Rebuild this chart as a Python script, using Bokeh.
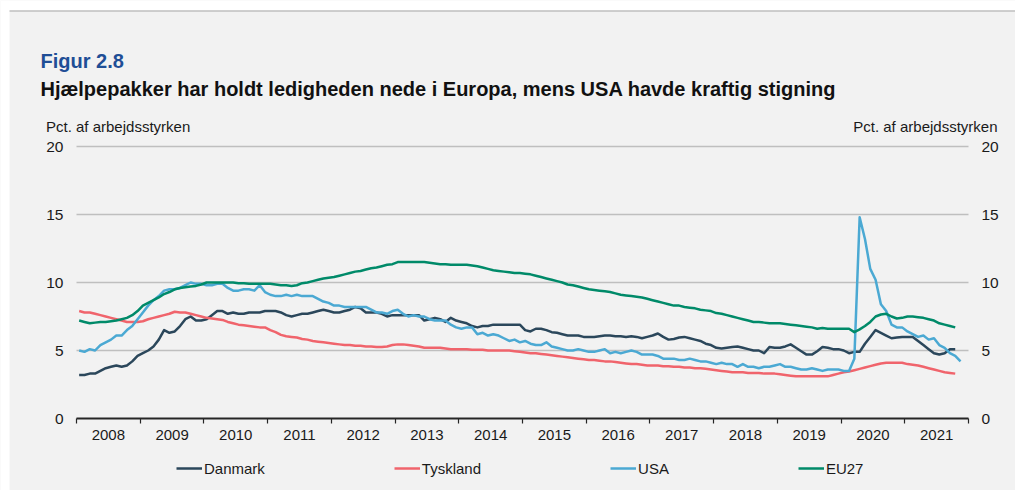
from bokeh.plotting import figure
from bokeh.models import (Range1d, LinearAxis, FixedTicker, CustomJSTickFormatter,
                          Legend, LegendItem, Label, BoxAnnotation)
from bokeh.embed import file_html
from bokeh.resources import INLINE

# ---------------- data (monthly, Jan 2008 onwards, pct. of labour force) -------------
start_year = 2008
year_ticks = list(range(2008, 2023))
y_ticks = [0, 5, 10, 15, 20]
grid_levels = [5, 10, 15, 20]

danmark = [
    3.2, 3.2, 3.3, 3.3, 3.5, 3.7, 3.8, 3.9, 3.8, 3.9, 4.2, 4.6,
    4.8, 5.0, 5.3, 5.8, 6.5, 6.3, 6.4, 6.8, 7.3, 7.5, 7.2, 7.2,
    7.3, 7.6, 7.9, 7.9, 7.7, 7.8, 7.7, 7.7, 7.8, 7.8, 7.8, 7.9,
    7.9, 7.9, 7.8, 7.6, 7.5, 7.6, 7.7, 7.7, 7.8, 7.9, 8.0, 7.9,
    7.8, 7.8, 7.9, 8.0, 8.2, 8.1, 7.8, 7.8, 7.8, 7.7, 7.5, 7.6,
    7.6, 7.6, 7.6, 7.6, 7.6, 7.2, 7.3, 7.4, 7.3, 7.1, 7.4, 7.2,
    7.1, 7.0, 6.8, 6.7, 6.8, 6.8, 6.9, 6.9, 6.9, 6.9, 6.9, 6.9,
    6.5, 6.4, 6.6, 6.6, 6.5, 6.35, 6.3, 6.2, 6.1, 6.1, 6.1, 6.0,
    6.0, 6.0, 6.05, 6.1, 6.1, 6.05, 6.05, 6.0, 6.05, 6.0, 5.9, 6.0,
    6.1, 6.25, 6.0, 5.8, 5.85, 5.95, 6.0, 5.9, 5.8, 5.7, 5.5, 5.4,
    5.2, 5.15, 5.2, 5.25, 5.3, 5.2, 5.1, 5.0, 5.0, 4.8, 5.25, 5.2,
    5.2, 5.3, 5.45, 5.2, 4.95, 4.7, 4.7, 4.95, 5.25, 5.2, 5.1, 5.1,
    5.0, 4.8, 4.9, 4.9, 5.5, 6.0, 6.5, 6.3, 6.1, 5.9, 5.95, 6.0,
    6.0, 6.0, 5.7, 5.4, 5.1, 4.8, 4.7, 4.8, 5.1, 5.1,
]

tyskland = [
    7.9, 7.8, 7.8, 7.7, 7.6, 7.5, 7.4, 7.3, 7.2, 7.1, 7.1, 7.1,
    7.15, 7.3, 7.4, 7.5, 7.6, 7.7, 7.85, 7.8, 7.8, 7.7, 7.6, 7.5,
    7.4, 7.35, 7.3, 7.25, 7.1, 7.0, 6.9, 6.85, 6.8, 6.75, 6.7, 6.7,
    6.5, 6.35, 6.15, 6.05, 6.0, 5.95, 5.85, 5.8, 5.7, 5.65, 5.6, 5.55,
    5.5, 5.45, 5.4, 5.4, 5.35, 5.35, 5.3, 5.3, 5.25, 5.25, 5.3, 5.4,
    5.45, 5.45, 5.4, 5.35, 5.3, 5.2, 5.2, 5.2, 5.2, 5.15, 5.1, 5.1,
    5.1, 5.1, 5.05, 5.05, 5.05, 5.0, 5.0, 5.0, 5.0, 5.0, 4.95, 4.9,
    4.85, 4.8, 4.8, 4.75, 4.7, 4.65, 4.6, 4.55, 4.5, 4.45, 4.4, 4.35,
    4.3, 4.3, 4.25, 4.2, 4.2, 4.15, 4.1, 4.05, 4.0, 4.0, 3.95, 3.9,
    3.9, 3.9, 3.85, 3.85, 3.8, 3.8, 3.75, 3.75, 3.7, 3.7, 3.65, 3.6,
    3.55, 3.5, 3.45, 3.4, 3.4, 3.4, 3.35, 3.35, 3.35, 3.3, 3.3, 3.3,
    3.25, 3.2, 3.15, 3.1, 3.1, 3.1, 3.1, 3.1, 3.1, 3.1, 3.2, 3.3,
    3.4, 3.45, 3.55, 3.65, 3.75, 3.85, 3.95, 4.05, 4.1, 4.1, 4.1, 4.1,
    4.0, 3.95, 3.9, 3.8, 3.7, 3.6, 3.5, 3.4, 3.35, 3.3,
]

usa = [
    5.0, 4.9, 5.1, 5.0, 5.4, 5.6, 5.8, 6.1, 6.1, 6.5, 6.8, 7.3,
    7.8, 8.3, 8.7, 9.0, 9.4, 9.5, 9.5, 9.6, 9.8, 10.0, 9.9, 9.9,
    9.8, 9.8, 9.9, 9.9, 9.6, 9.4, 9.4, 9.5, 9.5, 9.4, 9.8, 9.3,
    9.1, 9.0, 9.0, 9.1, 9.0, 9.1, 9.0, 9.0, 9.0, 8.8, 8.6, 8.5,
    8.3, 8.3, 8.2, 8.2, 8.2, 8.2, 8.2, 8.0, 7.8, 7.8, 7.7, 7.9,
    8.0, 7.7, 7.5, 7.6, 7.5, 7.5, 7.3, 7.2, 7.2, 7.2, 6.9, 6.7,
    6.6, 6.7, 6.7, 6.2, 6.3, 6.1, 6.2, 6.1, 5.9, 5.7, 5.8, 5.6,
    5.7, 5.5, 5.4, 5.4, 5.6, 5.3, 5.2, 5.1, 5.0, 5.0, 5.1, 5.0,
    4.9, 4.9, 5.0, 5.1, 4.8, 4.9, 4.8, 4.9, 5.0, 4.9, 4.7, 4.7,
    4.7, 4.6, 4.4, 4.4, 4.4, 4.3, 4.3, 4.4, 4.3, 4.2, 4.2, 4.1,
    4.0, 4.1, 4.0, 4.0, 3.8, 4.0, 3.8, 3.8, 3.7, 3.8, 3.8, 3.9,
    4.0, 3.8, 3.8, 3.7, 3.6, 3.6, 3.7, 3.6, 3.5, 3.6, 3.6, 3.6,
    3.5, 3.5, 4.4, 14.8, 13.2, 11.0, 10.2, 8.4, 7.9, 6.9, 6.7, 6.7,
    6.4, 6.2, 6.0, 6.1, 5.8, 5.9, 5.4, 5.2, 4.8, 4.6, 4.2,
]

eu27 = [
    7.2, 7.1, 7.0, 7.05, 7.1, 7.1, 7.15, 7.2, 7.3, 7.4, 7.6, 7.9,
    8.3, 8.5, 8.7, 8.9, 9.15, 9.3, 9.5, 9.6, 9.65, 9.7, 9.75, 9.85,
    10.0, 10.0, 10.0, 10.0, 10.0, 10.0, 9.95, 9.95, 9.9, 9.9, 9.9, 9.9,
    9.9, 9.85, 9.8, 9.8, 9.75, 9.8, 9.95, 10.0, 10.1, 10.2, 10.3, 10.35,
    10.4, 10.5, 10.6, 10.7, 10.8, 10.85, 10.95, 11.05, 11.1, 11.2, 11.3, 11.35,
    11.5, 11.5, 11.5, 11.5, 11.5, 11.5, 11.45, 11.4, 11.35, 11.35, 11.3, 11.3,
    11.3, 11.3, 11.25, 11.2, 11.1, 11.0, 10.9, 10.85, 10.8, 10.75, 10.7, 10.7,
    10.65, 10.6, 10.5, 10.4, 10.3, 10.2, 10.1, 10.0, 9.85, 9.8, 9.7, 9.6,
    9.5, 9.45, 9.4, 9.35, 9.3, 9.2, 9.1, 9.05, 9.0, 8.95, 8.9, 8.8,
    8.7, 8.6, 8.5, 8.4, 8.3, 8.3, 8.2, 8.15, 8.1, 8.0, 7.95, 7.9,
    7.75, 7.7, 7.6, 7.5, 7.4, 7.3, 7.2, 7.1, 7.1, 7.05, 7.0, 7.0,
    7.0, 6.95, 6.9, 6.85, 6.8, 6.75, 6.7, 6.6, 6.65, 6.6, 6.6, 6.6,
    6.6, 6.6, 6.35, 6.55, 6.8, 7.1, 7.5, 7.65, 7.7, 7.5, 7.35, 7.4,
    7.5, 7.5, 7.45, 7.4, 7.3, 7.2, 7.0, 6.9, 6.8, 6.7,
]

series_names = ["Danmark", "Tyskland", "USA", "EU27"]
series_values = [danmark, tyskland, usa, eu27]
series_colors = ["#2b475b", "#f0646c", "#4ba9d3", "#008a69"]

title_text = "Figur 2.8"
subtitle_text = "Hjælpepakker har holdt ledigheden nede i Europa, mens USA havde kraftig stigning"
unit_text = "Pct. af arbejdsstyrken"


def month_pos(n):
    # mid-month position, in decimal years
    return [start_year + (i + 0.5) / 12 for i in range(n)]


# ---------------- layout (pixels) ----------------
W, H = 1015, 490
FL, FR, FT, FB = 76, 968, 146, 418          # plotting area
X0, X1 = year_ticks[0], year_ticks[-1]
Y0, Y1 = y_ticks[0], y_ticks[-1]
PPX = (FR - FL) / (X1 - X0)
PPY = (FB - FT) / (Y1 - Y0)


def px_x(px):
    return X0 + (px - FL) / PPX


def px_y(py):
    return Y0 + (FB - py) / PPY


FONT = "Liberation Sans"
BG = "#f2f2f2"
TXT = "#1a1a1a"

p = figure(width=W, height=H, output_backend="svg", toolbar_location=None,
           title=None, x_axis_type=None, y_axis_type=None,
           x_range=Range1d(px_x(0), px_x(W)), y_range=Range1d(px_y(H), px_y(0)),
           background_fill_color=BG, border_fill_color=BG,
           min_border_left=0, min_border_right=0, min_border_top=0,
           min_border_bottom=0, outline_line_color=None)

# page strip above / left of the panel and the panel's top rule
p.add_layout(BoxAnnotation(bottom=px_y(10), fill_color="white", fill_alpha=1,
                           line_color=None))
p.add_layout(BoxAnnotation(right=px_x(9), fill_color="white", fill_alpha=1,
                           line_color=None))
p.add_layout(BoxAnnotation(left=px_x(9), bottom=px_y(11), top=px_y(10),
                           fill_color="#a6a6a6", fill_alpha=1, line_color=None))

# horizontal gridlines across the plotting area
p.segment(x0=[X0] * len(grid_levels), x1=[X1] * len(grid_levels),
          y0=grid_levels, y1=grid_levels, line_color="#bfbfbf", line_width=1.4)

renderers = []
for name, vals, col in zip(series_names, series_values, series_colors):
    r = p.line(month_pos(len(vals)), vals, line_color=col, line_width=2.5,
               line_join="round")
    renderers.append(r)

# x axis, on the zero line
xa = LinearAxis(fixed_location=Y0, bounds=(X0, X1))
xa.ticker = FixedTicker(ticks=[y + 0.5 for y in year_ticks[:-1]], minor_ticks=year_ticks)
xa.formatter = CustomJSTickFormatter(code="return Math.floor(tick).toString();")
xa.major_tick_out = 0
xa.major_tick_in = 0
xa.minor_tick_out = 5
xa.minor_tick_in = 0
xa.minor_tick_line_color = "#262626"
xa.minor_tick_line_width = 1.2
xa.axis_line_color = "#262626"
xa.axis_line_width = 2
xa.major_label_standoff = 6
xa.major_label_text_font = FONT
xa.major_label_text_font_size = "15px"
xa.major_label_text_color = TXT
p.add_layout(xa, "below")

# y axes, left and right
la = LinearAxis(fixed_location=X0, bounds=(Y0, Y1))
ra = LinearAxis(fixed_location=X1, bounds=(Y0, Y1))
for ax in (la, ra):
    ax.ticker = FixedTicker(ticks=y_ticks)
    ax.axis_line_color = None
    ax.major_tick_line_color = None
    ax.minor_tick_line_color = None
    ax.major_tick_out = 0
    ax.major_tick_in = 0
    ax.major_label_standoff = 13
    ax.major_label_text_font = FONT
    ax.major_label_text_font_size = "15.5px"
    ax.major_label_text_color = TXT
p.add_layout(la, "left")
p.add_layout(ra, "right")

# texts
p.add_layout(Label(x=px_x(40), y=px_y(60.5), text=title_text, text_font=FONT,
                   text_font_style="bold", text_font_size="20px",
                   text_color="#1f4e96", text_baseline="alphabetic"))
p.add_layout(Label(x=px_x(40), y=px_y(88.5), text=subtitle_text, text_font=FONT,
                   text_font_style="bold", text_font_size="20px",
                   text_color="#111111", text_baseline="alphabetic"))
p.add_layout(Label(x=px_x(45.5), y=px_y(125.5), text=unit_text, text_font=FONT,
                   text_font_size="15px", text_color=TXT,
                   text_baseline="alphabetic"))
p.add_layout(Label(x=px_x(997), y=px_y(125.5), text=unit_text, text_font=FONT,
                   text_font_size="15px", text_color=TXT,
                   text_baseline="alphabetic", text_align="right"))

legend = Legend(items=[LegendItem(label=n, renderers=[r]) for n, r in zip(series_names, renderers)],
                orientation="horizontal", location=(176, H - 458 - 20), spacing=129,
                glyph_width=26, glyph_height=20, label_standoff=2, label_height=20,
                label_text_font=FONT, label_text_font_size="15px",
                label_text_color=TXT, background_fill_alpha=0,
                border_line_alpha=0, padding=0, margin=0)
p.add_layout(legend)

open("out.html", "w").write(file_html(p, INLINE))
